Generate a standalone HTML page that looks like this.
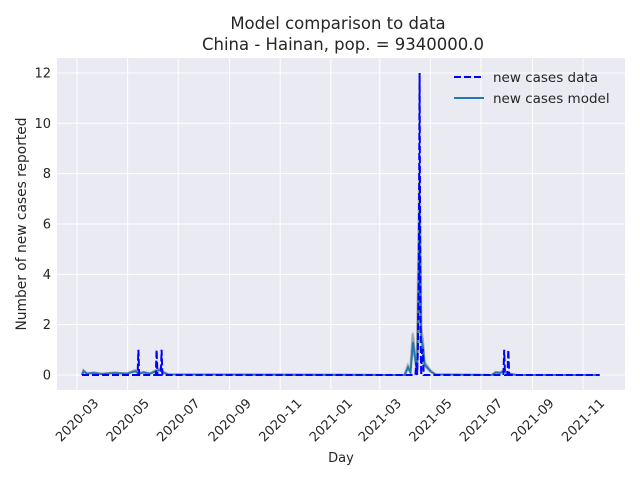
<!DOCTYPE html>
<html><head><meta charset="utf-8"><style>
body{margin:0;background:#fff;font-family:"Liberation Sans","DejaVu Sans",sans-serif;}
svg text{font-family:"DejaVu Sans","Liberation Sans",sans-serif;fill:#262626;}
</style></head><body>
<svg id="c" width="640" height="480" xmlns="http://www.w3.org/2000/svg">
<rect x="0" y="0" width="640" height="480" fill="#fff"/>
<rect x="57" y="58" width="568" height="332" fill="#eaeaf2"/>
<g id="grid"></g>
<g id="marks"></g>
<g id="ticks"></g>
<text x="338" y="29" text-anchor="middle" font-size="16.5">Model comparison to data</text>
<text x="343" y="50" text-anchor="middle" font-size="16.5">China - Hainan, pop. = 9340000.0</text>
<text x="341" y="462" text-anchor="middle" font-size="13">Day</text>
<text transform="translate(26,224) rotate(-90)" text-anchor="middle" font-size="13.8">Number of new cases reported</text>
<g>
<line x1="454" y1="77" x2="484" y2="77" stroke="#0000ff" stroke-width="2" stroke-dasharray="7,3"/>
<text x="493" y="82" font-size="13.5">new cases data</text>
<line x1="454" y1="98" x2="484" y2="98" stroke="#1f77b4" stroke-width="2"/>
<text x="493" y="103" font-size="13.5">new cases model</text>
</g>
</svg>
<script>
// day 0 = 2020-03-01
const startDay = 6, endDay = 630;
const dataDays = [74, 96, 102, 409, 411, 412, 413, 414, 416, 417, 515, 520];
const dataVals = [1, 1, 1, 0.5, 1, 4, 12, 2, 1, 1, 1, 1];
const modelDays = [6, 8, 12, 20, 30, 45, 60, 70, 75, 80, 88, 95, 100, 104, 110, 395, 399, 402, 405, 407, 410, 413, 415, 417, 419, 422, 426, 432, 500, 505, 510, 515, 520, 530, 630];
const modelVals = [0, 0.15, 0.05, 0.08, 0.04, 0.08, 0.05, 0.15, 0.05, 0.1, 0.05, 0.15, 0.2, 0.1, 0.02, 0, 0.3, 0.1, 1.3, 0.8, 0.1, 6.5, 1.5, 1.1, 0.4, 0.3, 0.15, 0.02, 0, 0.1, 0.08, 0.15, 0.05, 0, 0];
const yTicks = [0, 2, 4, 6, 8, 10, 12];
const xTickLabels = ["2020-03","2020-05","2020-07","2020-09","2020-11","2021-01","2021-03","2021-05","2021-07","2021-09","2021-11"];
const xTickDays = [0, 61, 122, 184, 245, 306, 365, 426, 487, 549, 610];

const NS = "http://www.w3.org/2000/svg";
const X = d => 77 + d * 0.8295;
const Y = v => 375 - v * 25.17;
function mk(tag, attrs, parent){const e=document.createElementNS(NS,tag);for(const k in attrs)e.setAttribute(k,attrs[k]);document.getElementById(parent).appendChild(e);return e;}

yTicks.forEach(t=>{
  const g = mk("line",{x1:57,x2:625,y1:Y(t),y2:Y(t),stroke:"#fff","stroke-width":1},"grid");
  
  
  const l = mk("text",{x:51,y:Y(t)+4.5,"text-anchor":"end","font-size":13},"ticks");
  l.textContent = t;
  
  
});
xTickDays.forEach((d,i)=>{
  const g = mk("line",{x1:X(d),x2:X(d),y1:58,y2:390,stroke:"#fff","stroke-width":1},"grid");
  
  
  const x = X(d), y = 420;
  const l = mk("text",{x:x,y:y+4.5,"text-anchor":"middle","font-size":13,transform:`rotate(-45 ${x} ${y})`},"ticks");
  l.textContent = xTickLabels[i];
  
  
});

function modelPath(scale, shift){
  return modelDays.map((d,i)=>(i?"L":"M")+X(d+shift).toFixed(1)+","+Y(modelVals[i]*scale).toFixed(1)).join(" ");
}
const ens = [[1.25,-0.5,"#8c8c8c"],[1.15,0.4,"#a0a0a0"],[0.9,-0.3,"#c49a8a"],[1.05,0.3,"#8aa7b5"],[0.95,0,"#7ab8a8"],[1.3,0,"#999"]];
ens.forEach(e=>{
  const p = mk("path",{d:modelPath(e[0],e[1]),fill:"none",stroke:e[2],"stroke-width":2,opacity:0.55},"marks");
  
  
});
const mp = mk("path",{d:modelPath(1,0),fill:"none",stroke:"#1f77b4","stroke-width":1.8},"marks");



let pts = [[startDay,0]];
dataDays.forEach((d,i)=>{pts.push([d-1,0]);pts.push([d,dataVals[i]]);pts.push([d+1,0]);});
pts.push([endDay,0]);
pts.sort((a,b)=>a[0]-b[0]);
const merged=[];pts.forEach(p=>{const j=merged.findIndex(q=>q[0]===p[0]);if(j<0)merged.push(p);else merged[j][1]=Math.max(merged[j][1],p[1]);});
const dp = mk("path",{d:merged.map((p,i)=>(i?"L":"M")+X(p[0]).toFixed(1)+","+Y(p[1]).toFixed(1)).join(" "),fill:"none",stroke:"#0000ff","stroke-width":2,"stroke-dasharray":"7,3"},"marks");


</script>
</body></html>
